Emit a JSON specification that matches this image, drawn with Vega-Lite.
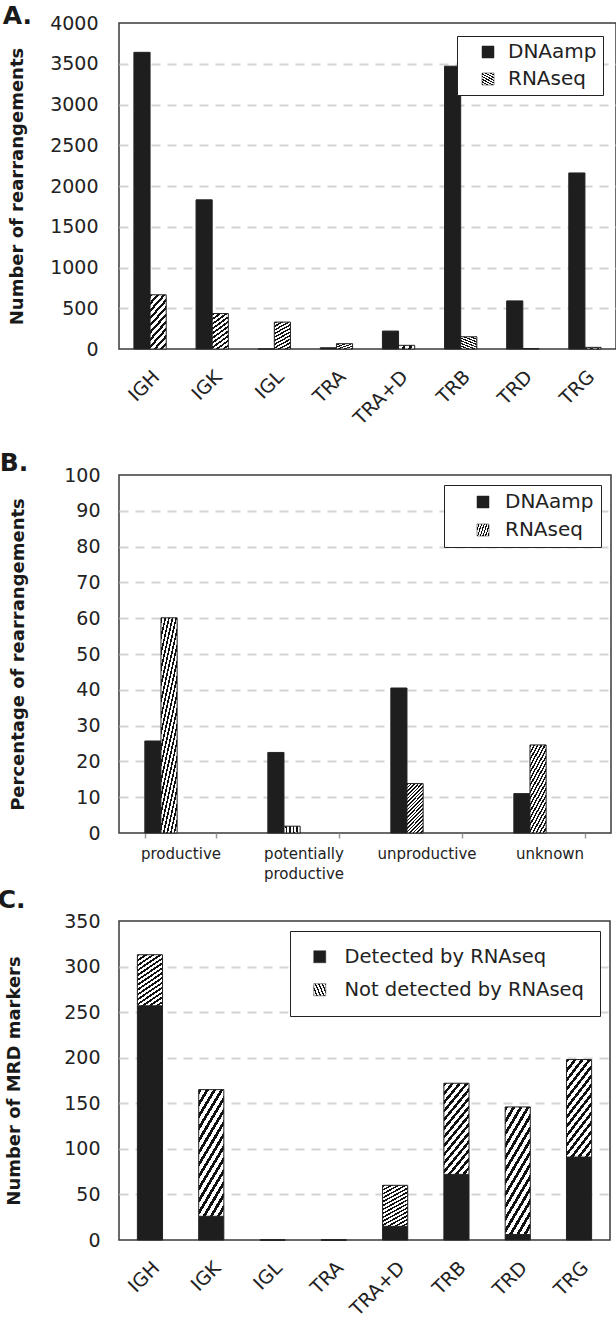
{
  "$schema": "https://vega.github.io/schema/vega-lite/v6.json",
  "background": "white",
  "padding": {"left": -4, "top": 3, "right": 0, "bottom": 0},
  "params": [
    {"name": "hatchA", "value": {"gradient": "linear", "x1": 0, "y1": 0, "x2": 0.4, "y2": 1.2, "stops": [
      {"offset": 0, "color": "#111"}, {"offset": 0.045, "color": "#111"}, {"offset": 0.045, "color": "#fff"}, {"offset": 0.1, "color": "#fff"},
      {"offset": 0.1, "color": "#111"}, {"offset": 0.145, "color": "#111"}, {"offset": 0.145, "color": "#fff"}, {"offset": 0.2, "color": "#fff"},
      {"offset": 0.2, "color": "#111"}, {"offset": 0.245, "color": "#111"}, {"offset": 0.245, "color": "#fff"}, {"offset": 0.3, "color": "#fff"},
      {"offset": 0.3, "color": "#111"}, {"offset": 0.345, "color": "#111"}, {"offset": 0.345, "color": "#fff"}, {"offset": 0.4, "color": "#fff"},
      {"offset": 0.4, "color": "#111"}, {"offset": 0.445, "color": "#111"}, {"offset": 0.445, "color": "#fff"}, {"offset": 0.5, "color": "#fff"},
      {"offset": 0.5, "color": "#111"}, {"offset": 0.545, "color": "#111"}, {"offset": 0.545, "color": "#fff"}, {"offset": 0.6, "color": "#fff"},
      {"offset": 0.6, "color": "#111"}, {"offset": 0.645, "color": "#111"}, {"offset": 0.645, "color": "#fff"}, {"offset": 0.7, "color": "#fff"},
      {"offset": 0.7, "color": "#111"}, {"offset": 0.745, "color": "#111"}, {"offset": 0.745, "color": "#fff"}, {"offset": 0.8, "color": "#fff"},
      {"offset": 0.8, "color": "#111"}, {"offset": 0.845, "color": "#111"}, {"offset": 0.845, "color": "#fff"}, {"offset": 0.9, "color": "#fff"},
      {"offset": 0.9, "color": "#111"}, {"offset": 0.945, "color": "#111"}, {"offset": 0.945, "color": "#fff"}, {"offset": 1, "color": "#fff"}
    ]}},
    {"name": "hatchB", "value": {"gradient": "linear", "x1": 0, "y1": 0, "x2": 0.4, "y2": 1.2, "stops": [
      {"offset": 0, "color": "#111"}, {"offset": 0.025, "color": "#111"}, {"offset": 0.025, "color": "#fff"}, {"offset": 0.0556, "color": "#fff"},
      {"offset": 0.0556, "color": "#111"}, {"offset": 0.0806, "color": "#111"}, {"offset": 0.0806, "color": "#fff"}, {"offset": 0.1111, "color": "#fff"},
      {"offset": 0.1111, "color": "#111"}, {"offset": 0.1361, "color": "#111"}, {"offset": 0.1361, "color": "#fff"}, {"offset": 0.1667, "color": "#fff"},
      {"offset": 0.1667, "color": "#111"}, {"offset": 0.1917, "color": "#111"}, {"offset": 0.1917, "color": "#fff"}, {"offset": 0.2222, "color": "#fff"},
      {"offset": 0.2222, "color": "#111"}, {"offset": 0.2472, "color": "#111"}, {"offset": 0.2472, "color": "#fff"}, {"offset": 0.2778, "color": "#fff"},
      {"offset": 0.2778, "color": "#111"}, {"offset": 0.3028, "color": "#111"}, {"offset": 0.3028, "color": "#fff"}, {"offset": 0.3333, "color": "#fff"},
      {"offset": 0.3333, "color": "#111"}, {"offset": 0.3583, "color": "#111"}, {"offset": 0.3583, "color": "#fff"}, {"offset": 0.3889, "color": "#fff"},
      {"offset": 0.3889, "color": "#111"}, {"offset": 0.4139, "color": "#111"}, {"offset": 0.4139, "color": "#fff"}, {"offset": 0.4444, "color": "#fff"},
      {"offset": 0.4444, "color": "#111"}, {"offset": 0.4694, "color": "#111"}, {"offset": 0.4694, "color": "#fff"}, {"offset": 0.5, "color": "#fff"},
      {"offset": 0.5, "color": "#111"}, {"offset": 0.525, "color": "#111"}, {"offset": 0.525, "color": "#fff"}, {"offset": 0.5556, "color": "#fff"},
      {"offset": 0.5556, "color": "#111"}, {"offset": 0.5806, "color": "#111"}, {"offset": 0.5806, "color": "#fff"}, {"offset": 0.6111, "color": "#fff"},
      {"offset": 0.6111, "color": "#111"}, {"offset": 0.6361, "color": "#111"}, {"offset": 0.6361, "color": "#fff"}, {"offset": 0.6667, "color": "#fff"},
      {"offset": 0.6667, "color": "#111"}, {"offset": 0.6917, "color": "#111"}, {"offset": 0.6917, "color": "#fff"}, {"offset": 0.7222, "color": "#fff"},
      {"offset": 0.7222, "color": "#111"}, {"offset": 0.7472, "color": "#111"}, {"offset": 0.7472, "color": "#fff"}, {"offset": 0.7778, "color": "#fff"},
      {"offset": 0.7778, "color": "#111"}, {"offset": 0.8028, "color": "#111"}, {"offset": 0.8028, "color": "#fff"}, {"offset": 0.8333, "color": "#fff"},
      {"offset": 0.8333, "color": "#111"}, {"offset": 0.8583, "color": "#111"}, {"offset": 0.8583, "color": "#fff"}, {"offset": 0.8889, "color": "#fff"},
      {"offset": 0.8889, "color": "#111"}, {"offset": 0.9139, "color": "#111"}, {"offset": 0.9139, "color": "#fff"}, {"offset": 0.9444, "color": "#fff"},
      {"offset": 0.9444, "color": "#111"}, {"offset": 0.9694, "color": "#111"}, {"offset": 0.9694, "color": "#fff"}, {"offset": 1, "color": "#fff"}
    ]}},
    {"name": "hatchC", "value": {"gradient": "linear", "x1": 0, "y1": 0, "x2": 0.4, "y2": 1.2, "stops": [
      {"offset": 0, "color": "#111"}, {"offset": 0.0321, "color": "#111"}, {"offset": 0.0321, "color": "#fff"}, {"offset": 0.0714, "color": "#fff"},
      {"offset": 0.0714, "color": "#111"}, {"offset": 0.1036, "color": "#111"}, {"offset": 0.1036, "color": "#fff"}, {"offset": 0.1429, "color": "#fff"},
      {"offset": 0.1429, "color": "#111"}, {"offset": 0.175, "color": "#111"}, {"offset": 0.175, "color": "#fff"}, {"offset": 0.2143, "color": "#fff"},
      {"offset": 0.2143, "color": "#111"}, {"offset": 0.2464, "color": "#111"}, {"offset": 0.2464, "color": "#fff"}, {"offset": 0.2857, "color": "#fff"},
      {"offset": 0.2857, "color": "#111"}, {"offset": 0.3179, "color": "#111"}, {"offset": 0.3179, "color": "#fff"}, {"offset": 0.3571, "color": "#fff"},
      {"offset": 0.3571, "color": "#111"}, {"offset": 0.3893, "color": "#111"}, {"offset": 0.3893, "color": "#fff"}, {"offset": 0.4286, "color": "#fff"},
      {"offset": 0.4286, "color": "#111"}, {"offset": 0.4607, "color": "#111"}, {"offset": 0.4607, "color": "#fff"}, {"offset": 0.5, "color": "#fff"},
      {"offset": 0.5, "color": "#111"}, {"offset": 0.5321, "color": "#111"}, {"offset": 0.5321, "color": "#fff"}, {"offset": 0.5714, "color": "#fff"},
      {"offset": 0.5714, "color": "#111"}, {"offset": 0.6036, "color": "#111"}, {"offset": 0.6036, "color": "#fff"}, {"offset": 0.6429, "color": "#fff"},
      {"offset": 0.6429, "color": "#111"}, {"offset": 0.675, "color": "#111"}, {"offset": 0.675, "color": "#fff"}, {"offset": 0.7143, "color": "#fff"},
      {"offset": 0.7143, "color": "#111"}, {"offset": 0.7464, "color": "#111"}, {"offset": 0.7464, "color": "#fff"}, {"offset": 0.7857, "color": "#fff"},
      {"offset": 0.7857, "color": "#111"}, {"offset": 0.8179, "color": "#111"}, {"offset": 0.8179, "color": "#fff"}, {"offset": 0.8571, "color": "#fff"},
      {"offset": 0.8571, "color": "#111"}, {"offset": 0.8893, "color": "#111"}, {"offset": 0.8893, "color": "#fff"}, {"offset": 0.9286, "color": "#fff"},
      {"offset": 0.9286, "color": "#111"}, {"offset": 0.9607, "color": "#111"}, {"offset": 0.9607, "color": "#fff"}, {"offset": 1, "color": "#fff"}
    ]}}
  ],
  "datasets": {
    "a": [
      {"gene": "IGH", "method": "DNAamp", "count": 3640}, {"gene": "IGH", "method": "RNAseq", "count": 665},
      {"gene": "IGK", "method": "DNAamp", "count": 1830}, {"gene": "IGK", "method": "RNAseq", "count": 435},
      {"gene": "IGL", "method": "DNAamp", "count": 0}, {"gene": "IGL", "method": "RNAseq", "count": 330},
      {"gene": "TRA", "method": "DNAamp", "count": 15}, {"gene": "TRA", "method": "RNAseq", "count": 65},
      {"gene": "TRA+D", "method": "DNAamp", "count": 220}, {"gene": "TRA+D", "method": "RNAseq", "count": 45},
      {"gene": "TRB", "method": "DNAamp", "count": 3470}, {"gene": "TRB", "method": "RNAseq", "count": 150},
      {"gene": "TRD", "method": "DNAamp", "count": 590}, {"gene": "TRD", "method": "RNAseq", "count": 5},
      {"gene": "TRG", "method": "DNAamp", "count": 2160}, {"gene": "TRG", "method": "RNAseq", "count": 20}
    ],
    "b": [
      {"category": "productive", "method": "DNAamp", "pct": 25.7}, {"category": "productive", "method": "RNAseq", "pct": 60.1},
      {"category": "potentially productive", "method": "DNAamp", "pct": 22.5}, {"category": "potentially productive", "method": "RNAseq", "pct": 1.9},
      {"category": "unproductive", "method": "DNAamp", "pct": 40.5}, {"category": "unproductive", "method": "RNAseq", "pct": 13.8},
      {"category": "unknown", "method": "DNAamp", "pct": 11}, {"category": "unknown", "method": "RNAseq", "pct": 24.6}
    ],
    "c": [
      {"gene": "IGH", "status": "Detected by RNAseq", "n": 257}, {"gene": "IGH", "status": "Not detected by RNAseq", "n": 56},
      {"gene": "IGK", "status": "Detected by RNAseq", "n": 26}, {"gene": "IGK", "status": "Not detected by RNAseq", "n": 139},
      {"gene": "IGL", "status": "Detected by RNAseq", "n": 0}, {"gene": "IGL", "status": "Not detected by RNAseq", "n": 0},
      {"gene": "TRA", "status": "Detected by RNAseq", "n": 0}, {"gene": "TRA", "status": "Not detected by RNAseq", "n": 0},
      {"gene": "TRA+D", "status": "Detected by RNAseq", "n": 15}, {"gene": "TRA+D", "status": "Not detected by RNAseq", "n": 45},
      {"gene": "TRB", "status": "Detected by RNAseq", "n": 72}, {"gene": "TRB", "status": "Not detected by RNAseq", "n": 100},
      {"gene": "TRD", "status": "Detected by RNAseq", "n": 6}, {"gene": "TRD", "status": "Not detected by RNAseq", "n": 140},
      {"gene": "TRG", "status": "Detected by RNAseq", "n": 91}, {"gene": "TRG", "status": "Not detected by RNAseq", "n": 107}
    ]
  },
  "concat": [
    {
      "title": {"text": "A.", "offset": -15, "dx": -6},
      "width": 497,
      "height": 326,
      "data": {"name": "a"},
      "mark": {"type": "bar", "stroke": "#222", "strokeWidth": 1},
      "encoding": {
        "x": {"field": "gene", "type": "nominal", "sort": null,
              "scale": {"paddingInner": 0.48, "paddingOuter": 0.24},
              "axis": {"title": null, "labelAngle": -45, "labelPadding": 18}},
        "xOffset": {"field": "method", "type": "nominal"},
        "y": {"field": "count", "type": "quantitative",
              "scale": {"domain": [0, 4000], "nice": false},
              "axis": {"title": "Number of rearrangements", "titlePadding": 23, "labelPadding": 21, "format": "d",
                       "values": [0, 500, 1000, 1500, 2000, 2500, 3000, 3500, 4000],
                       "gridOpacity": {"condition": {"test": "datum.value === 0 || datum.value === 4000", "value": 0}, "value": 1}}},
        "fill": {"field": "method", "type": "nominal",
                 "scale": {"domain": ["DNAamp", "RNAseq"], "range": ["#1e1e1e", {"expr": "hatchA"}]},
                 "legend": {"title": null, "orient": "top-right", "offset": 13, "labelFontSize": 20,
                            "padding": 6, "symbolOffset": 15, "labelOffset": 10, "rowPadding": 7}}
      }
    },
    {
      "vconcat": [
        {
          "title": {"text": "B.", "offset": -10, "dx": -10},
          "width": 492,
          "height": 358,
          "data": {"name": "b"},
          "mark": {"type": "bar", "stroke": "#222", "strokeWidth": 1},
          "encoding": {
            "x": {"field": "category", "type": "nominal", "sort": null,
                  "scale": {"paddingInner": 0.42, "paddingOuter": 0.21},
                  "axis": {"title": null, "labelAngle": 0, "labelFontSize": 15, "labelPadding": 8,
                           "labelExpr": "split(datum.label, ' ')", "labelLineHeight": 20,
                           "ticks": true, "tickBand": "extent", "tickSize": 5, "tickColor": "#999", "tickWidth": 1.5}},
            "xOffset": {"field": "method", "type": "nominal"},
            "y": {"field": "pct", "type": "quantitative",
                  "scale": {"domain": [0, 100], "nice": false},
                  "axis": {"title": "Percentage of rearrangements", "titlePadding": 36, "labelPadding": 19,
                           "values": [0, 10, 20, 30, 40, 50, 60, 70, 80, 90, 100],
                           "gridOpacity": {"condition": {"test": "datum.value === 0 || datum.value === 100", "value": 0}, "value": 1}}},
            "fill": {"field": "method", "type": "nominal",
                     "scale": {"domain": ["DNAamp", "RNAseq"], "range": ["#1e1e1e", {"expr": "hatchB"}]},
                     "legend": {"title": null, "orient": "top-right", "offset": 10, "labelFontSize": 20,
                                "padding": 7, "symbolOffset": 22, "labelOffset": 12, "rowPadding": 8}}
          }
        },
        {
          "title": {"text": "C.", "offset": -1, "dx": -8},
          "width": 491,
          "height": 319,
          "data": {"name": "c"},
          "mark": {"type": "bar", "stroke": "#222", "strokeWidth": 1},
          "encoding": {
            "x": {"field": "gene", "type": "nominal", "sort": null,
                  "scale": {"paddingInner": 0.59, "paddingOuter": 0.3},
                  "axis": {"title": null, "labelAngle": -45, "labelPadding": 18}},
            "y": {"field": "n", "type": "quantitative", "stack": "zero",
                  "scale": {"domain": [0, 350], "nice": false},
                  "axis": {"title": "Number of MRD markers", "titlePadding": 40, "labelPadding": 19,
                           "values": [0, 50, 100, 150, 200, 250, 300, 350],
                           "gridOpacity": {"condition": {"test": "datum.value === 0 || datum.value === 350", "value": 0}, "value": 1}}},
            "order": {"field": "status", "sort": "ascending"},
            "fill": {"field": "status", "type": "nominal",
                     "scale": {"domain": ["Detected by RNAseq", "Not detected by RNAseq"], "range": ["#1e1e1e", {"expr": "hatchC"}]},
                     "legend": {"title": null, "orient": "top-right", "offset": 10, "labelFontSize": 19.5,
                                "padding": 16, "symbolOffset": 4, "labelOffset": 15, "rowPadding": 12}}
          }
        }
      ],
      "spacing": 5,
      "resolve": {"scale": {"fill": "independent"}, "legend": {"fill": "independent"}}
    }
  ],
  "columns": 1,
  "align": "none",
  "spacing": 21,
  "resolve": {"scale": {"fill": "independent"}, "legend": {"fill": "independent"}},
  "config": {
    "font": "DejaVu Sans",
    "view": {"stroke": "#3a3a3a", "strokeWidth": 1.5},
    "title": {"anchor": "start", "frame": "bounds", "fontSize": 25, "fontWeight": "bold", "font": "DejaVu Sans", "color": "#1a1a1a", "baseline": "alphabetic"},
    "axis": {"labelFont": "DejaVu Sans", "labelFontSize": 19, "labelColor": "#222", "titleFont": "DejaVu Sans", "titleFontSize": 18, "titleFontWeight": "bold", "titleColor": "#1a1a1a", "ticks": false, "domain": false, "grid": false},
    "axisY": {"grid": true, "gridColor": "#d4d4d4", "gridDash": [9, 7], "gridWidth": 2},
    "legend": {"strokeColor": "#222", "fillColor": "white", "labelFont": "DejaVu Sans", "labelColor": "#222", "labelLimit": 400, "symbolType": "square", "symbolSize": 144, "symbolStrokeColor": "#222", "symbolStrokeWidth": 0.5, "cornerRadius": 0}
  }
}
